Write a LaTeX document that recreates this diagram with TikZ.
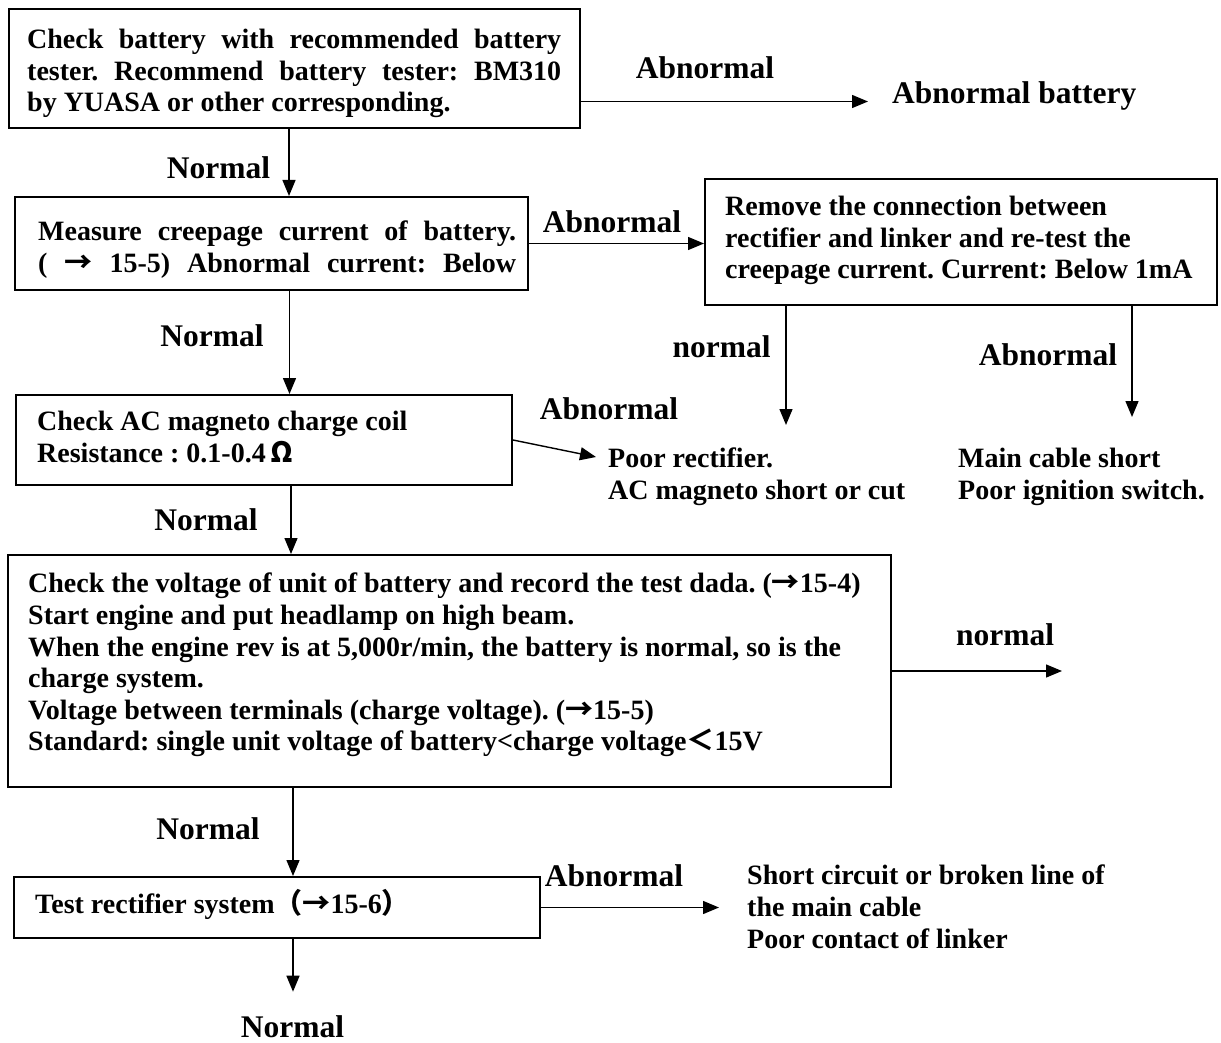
\documentclass[tikz,border=0pt]{standalone}
\usepackage{fontspec}
\setmainfont{Liberation Serif}
\newfontfamily\cjkfont{Noto Sans CJK SC}
\newcommand{\toarr}{{\cjkfont →}}
\frenchspacing
\usetikzlibrary{arrows.meta, positioning, calc}

\begin{document}
\begin{tikzpicture}[
  x=1pt, y=-1pt,
  >={Triangle[length=16pt, width=13pt]},
  box/.style 2 args={
    draw, line width=2pt, minimum width=#1, minimum height=#2, inner sep=0pt},
  txt/.style={font=\fontsize{28}{31.6}\selectfont\bfseries,
    align=left, inner sep=0pt, anchor=north west},
  lbl/.style={font=\fontsize{31.5}{34}\selectfont\bfseries, inner sep=0pt},
  flow/.style={->, line width=1.4pt},
]

% Canvas
\useasboundingbox (0,0) rectangle (1221,1043);

% === Boxes ===
\node[box={571}{119}] (bat)    at (294.5,68.5) {};
\node[box={513}{93}]  (creep)  at (271.5,243.5) {};
\node[box={512}{126}] (remove) at (961,242) {};
\node[box={496}{90}]  (coil)   at (264,440) {};
\node[box={883}{232}] (volt)   at (449.5,671) {};
\node[box={526}{61}]  (rect)   at (277,907.5) {};

% === Box texts ===
\node[txt] (batTxt) at (27,29)
  {\makebox[534pt][s]{Check battery with recommended battery}\\
   \makebox[534pt][s]{tester. Recommend battery tester: BM310}\\
   by YUASA or other corresponding.};
\node[txt] (creepTxt) at (38,221)
  {\makebox[478pt][s]{Measure creepage current of battery.}\\
   \makebox[478pt][s]{( \toarr\ 15-5) Abnormal current: Below}};
\node[txt] (removeTxt) at (725,196)
  {Remove the connection between\\
   rectifier and linker and re-test the\\
   creepage current. Current: Below 1mA};
\node[txt] (coilTxt) at (37,411)
  {Check AC magneto charge coil\\
   Resistance : 0.1-0.4\,{\cjkfont Ω}};
\node[txt] (voltTxt) at (28,573)
  {Check the voltage of unit of battery and record the test dada. (\toarr15-4)\\
   Start engine and put headlamp on high beam.\\
   When the engine rev is at 5,000r/min, the battery is normal, so is the\\
   charge system.\\
   Voltage between terminals (charge voltage). (\toarr15-5)\\
   Standard: single unit voltage of battery<charge voltage{\cjkfont ＜}15V};
\node[txt, anchor=base west] (rectTxt) at (35,913)
  {Test rectifier system{\cjkfont （}\toarr15-6{\cjkfont ）}};

% === Results ===
\node[lbl, anchor=base west] (abbat) at (892,104) {Abnormal battery};
\node[txt] (poor) at (608,448)
  {Poor rectifier.\\ AC magneto short or cut};
\node[txt] (main) at (958,448)
  {Main cable short\\ Poor ignition switch.};
\node[txt] (short) at (747,865)
  {Short circuit or broken line of\\ the main cable\\ Poor contact of linker};
\node[lbl] (fin) at (292.5,1027) {Normal};
\coordinate (voltOut) at (1062,671);

% === Branch labels ===
\node[lbl] (lbA1) at (705,68)    {Abnormal};
\node[lbl] (lbN1) at (218.5,168) {Normal};
\node[lbl] (lbA2) at (612,222)   {Abnormal};
\node[lbl] (lbN2) at (212,336)   {Normal};
\node[lbl] (lbn3) at (721.5,347) {normal};
\node[lbl] (lbA3) at (1048,355)  {Abnormal};
\node[lbl] (lbA4) at (609,409)   {Abnormal};
\node[lbl] (lbN4) at (206,520)   {Normal};
\node[lbl] (lbn5) at (1005,635)  {normal};
\node[lbl] (lbN5) at (208,829)   {Normal};
\node[lbl] (lbA6) at (614,876)   {Abnormal};

% === Connectors ===
\draw[flow, shorten >=24pt] ([yshift=-33]bat.east) -- ([yshift=-33]bat.east -| abbat.west);
\draw[flow] ([xshift=-5.5]bat.south) -- ([xshift=-5.5]bat.south |- creep.north);
\draw[flow] (creep.east) -- (creep.east -| remove.west);
\draw[flow, shorten >=23pt] ([xshift=-175]remove.south)
  -- ([xshift=-175]remove.south |- poor.north);
\draw[flow, shorten >=31pt] ([xshift=171]remove.south)
  -- ([xshift=171]remove.south |- main.north);
\draw[flow] ([xshift=18]creep.south) -- ([xshift=18]creep.south |- coil.north);
\draw[flow] (coil.east) -- ([xshift=-12, yshift=-9]poor.north west);
\draw[flow] ([xshift=27]coil.south) -- ([xshift=27]coil.south |- volt.north);
\draw[flow] (volt.east) -- (voltOut);
\draw[flow] ([xshift=-156.5]volt.south) -- ([xshift=-156.5]volt.south |- rect.north);
\draw[flow, shorten >=28pt] (rect.east) -- (rect.east -| short.west);
\draw[flow, shorten >=24pt] ([xshift=16]rect.south) -- ([xshift=16]rect.south |- fin.north);

\end{tikzpicture}
\end{document}
